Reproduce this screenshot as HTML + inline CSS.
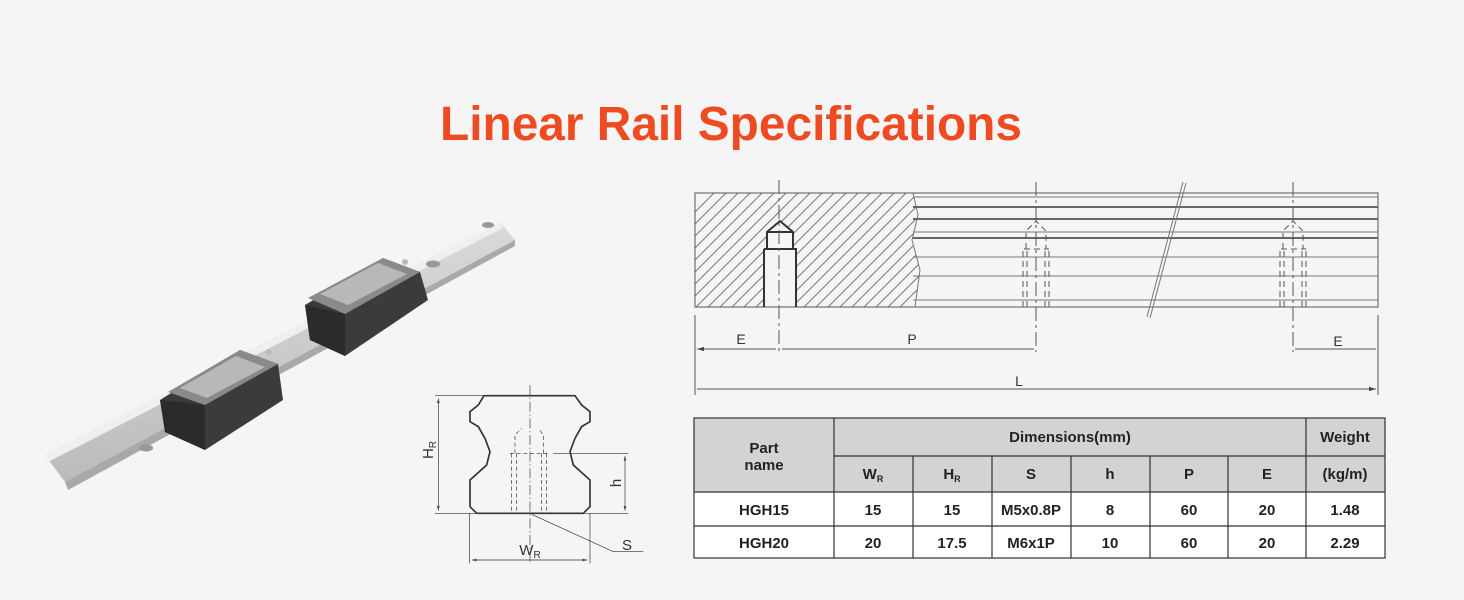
<!DOCTYPE html>
<html><head><meta charset="utf-8"><style>
html,body{margin:0;padding:0;background:#f5f5f5;}
svg{display:block;}
text{font-family:"Liberation Sans",Arial,sans-serif;}
</style></head><body>
<svg width="1464" height="600" viewBox="0 0 1464 600" xmlns="http://www.w3.org/2000/svg">
<defs>
<marker id="a" viewBox="0 0 10 10" refX="10" refY="5" markerWidth="7" markerHeight="7" orient="auto-start-reverse"><path d="M0,2 L10,5 L0,8 z" fill="#444"/></marker>
<clipPath id="hc"><path d="M695,193 L913,193 L918,215 L912,240 L920,270 L915,307 L695,307 z"/></clipPath>
<linearGradient id="rg" x1="0" y1="0" x2="0.3" y2="1"><stop offset="0" stop-color="#e6e6e6"/><stop offset="0.5" stop-color="#cfcfcf"/><stop offset="1" stop-color="#b8b8b8"/></linearGradient>
</defs>
<rect width="1464" height="600" fill="#f5f5f5"/>
<text x="731" y="140" text-anchor="middle" font-size="48" font-weight="bold" fill="#ef4b23" textLength="582" lengthAdjust="spacingAndGlyphs">Linear Rail Specifications</text>

<!-- product -->
<polygon points="45,455 500,222 515,240 65,482" fill="url(#rg)"/>
<polygon points="45,455 500,222 503,228 48,462" fill="#efefef"/>
<polygon points="65,482 515,240 515,246 68,490" fill="#a9a9a9"/>
<ellipse cx="146" cy="448" rx="7" ry="3.5" fill="#999"/>
<ellipse cx="433" cy="264" rx="7" ry="3.5" fill="#999"/>
<ellipse cx="488" cy="225" rx="6" ry="3" fill="#999"/>
<!-- upper block -->
<polygon points="305,305 383,258 420,272 428,300 345,356 310,340" fill="#3b3b3b"/>
<polygon points="308,298 383,258 420,272 345,314" fill="#8a8a8a"/>
<polygon points="320,294 378,263 407,274 348,305" fill="#b8b8b8"/>
<polygon points="305,305 345,314 345,356 310,340" fill="#2b2b2b"/>
<circle cx="405" cy="262" r="3" fill="#bbb"/>
<!-- lower block -->
<polygon points="160,400 240,350 278,364 283,400 205,450 165,432" fill="#3b3b3b"/>
<polygon points="168,392 240,350 278,364 205,405" fill="#8a8a8a"/>
<polygon points="180,388 236,356 265,367 207,398" fill="#b8b8b8"/>
<polygon points="160,400 205,405 205,450 165,432" fill="#2b2b2b"/>
<circle cx="269" cy="352" r="3" fill="#bbb"/>

<!-- cross-section -->
<g transform="translate(410,385) scale(0.3333)" fill="none" stroke="#333" stroke-width="3">
<path d="M222,32 L205,60 L180,80 L180,110 L205,125 L225,160 L240,200 L230,240 L180,285 L180,365 L200,385 L520,385 L540,365 L540,285 L490,240 L480,200 L495,160 L515,125 L540,110 L540,80 L515,60 L495,32 Z" stroke-width="5"/>
<path d="M360,0 L360,530" stroke-dasharray="30,8,4,8" stroke-width="2"/>
<path d="M305,205 L305,385 M320,205 L320,385 M395,205 L395,385 M410,205 L410,385 M300,205 L415,205 M315,205 L315,150 L335,130 M400,205 L400,150 L385,130" stroke-dasharray="12,8" stroke-width="2"/>
<path d="M75,32 L222,32 M75,385 L200,385 M430,205 L655,205 M520,385 L655,385 M178,385 L178,535 M540,385 L540,535" stroke-width="2"/>
<path d="M85,40 L85,377" stroke-width="2" marker-start="url(#a)" marker-end="url(#a)"/>
<path d="M645,213 L645,377" stroke-width="2" marker-start="url(#a)" marker-end="url(#a)"/>
<path d="M186,525 L532,525" stroke-width="2" marker-start="url(#a)" marker-end="url(#a)"/>
<path d="M365,388 L610,500 L700,500" stroke-width="2"/>
</g>
<text transform="translate(433,450) rotate(-90)" text-anchor="middle" font-size="15" fill="#333">H<tspan font-size="10" dy="3">R</tspan></text>
<text transform="translate(621,483) rotate(-90)" text-anchor="middle" font-size="15" fill="#333">h</text>
<text x="530" y="555" text-anchor="middle" font-size="15" fill="#333">W<tspan font-size="10" dy="3">R</tspan></text>
<text x="627" y="550" text-anchor="middle" font-size="15" fill="#333">S</text>

<!-- rail drawing -->
<g stroke="#555" fill="none" stroke-width="1">
<g clip-path="url(#hc)" stroke="#777">
<path d="M600,307 L714,193 M612,307 L726,193 M624,307 L738,193 M636,307 L750,193 M648,307 L762,193 M660,307 L774,193 M672,307 L786,193 M684,307 L798,193 M696,307 L810,193 M708,307 L822,193 M720,307 L834,193 M732,307 L846,193 M744,307 L858,193 M756,307 L870,193 M768,307 L882,193 M780,307 L894,193 M792,307 L906,193 M804,307 L918,193 M816,307 L930,193 M828,307 L942,193 M840,307 L954,193 M852,307 L966,193 M864,307 L978,193 M876,307 L990,193 M888,307 L1002,193 M900,307 L1014,193"/>
</g>
<path d="M767,249 L767,232 L780,221 L793,232 L793,249 L796,249 L796,307 L764,307 L764,249 Z" fill="#f5f5f5" stroke="none"/>
<path d="M913,193 L918,215 L912,240 L920,270 L915,307" stroke="#777"/>
<rect x="695" y="193" width="683" height="114"/>
<path d="M913,197 L1378,197 M913,207 L1378,207 M913,219 L1378,219 M913,232 L1378,232 M913,238 L1378,238 M913,257 L1378,257 M913,276 L1378,276 M913,300 L1378,300" stroke="#777"/>
<path d="M913,207 L1378,207 M913,219 L1378,219 M913,238 L1378,238" stroke-width="2" stroke="#666"/>
<path d="M767,249 L767,232 L780,221 L793,232 L793,249 M764,249 L796,249 L796,307 M764,249 L764,307 M767,232 L793,232" stroke="#333" stroke-width="2"/>
<path d="M1023,307 L1023,249 M1027,307 L1027,249 M1045,307 L1045,249 M1049,307 L1049,249 M1024,249 L1049,249 M1026,249 L1026,231 L1036,221 L1046,231 L1046,249 M1280,307 L1280,249 M1284,307 L1284,249 M1302,307 L1302,249 M1306,307 L1306,249 M1281,249 L1306,249 M1283,249 L1283,231 L1293,221 L1303,231 L1303,249" stroke-dasharray="6,4"/>
<path d="M779,180 L779,355 M1036,182 L1036,352 M1293,182 L1293,352" stroke-dasharray="14,4,3,4"/>
<path d="M1186,183 L1150,318 M1183,182 L1147,317" stroke="#777"/>
<path d="M695,315 L695,395 M1378,315 L1378,395"/>
<path d="M697,349 L776,349 M782,349 L1034,349 M1295,349 L1376,349 M697,389 L1376,389" marker-start="url(#a)" marker-end="url(#a)"/>
</g>
<text x="741" y="344" text-anchor="middle" font-size="14" fill="#333">E</text>
<text x="912" y="344" text-anchor="middle" font-size="14" fill="#333">P</text>
<text x="1338" y="346" text-anchor="middle" font-size="14" fill="#333">E</text>
<text x="1019" y="386" text-anchor="middle" font-size="14" fill="#333">L</text>

<!-- table -->
<g font-weight="bold" font-size="15" fill="#222" text-anchor="middle">
<rect x="694" y="418" width="691" height="74" fill="#d3d3d3"/>
<rect x="694" y="492" width="691" height="66" fill="#fff"/>
<g stroke="#333" stroke-width="1.2" fill="none">
<rect x="694" y="418" width="691" height="140"/>
<path d="M834,456 L1306,456 M1306,456 L1385,456 M694,492 L1385,492 M694,526 L1385,526 M834,418 L834,558 M1306,418 L1306,558 M913,456 L913,558 M992,456 L992,558 M1071,456 L1071,558 M1150,456 L1150,558 M1228,456 L1228,558"/>
</g>
<text x="764" y="453">Part</text><text x="764" y="470">name</text>
<text x="1070" y="442">Dimensions(mm)</text>
<text x="1345" y="442">Weight</text>
<text x="873" y="479">W<tspan font-size="9" dy="3">R</tspan></text>
<text x="952" y="479">H<tspan font-size="9" dy="3">R</tspan></text>
<text x="1031" y="479">S</text><text x="1110" y="479">h</text><text x="1189" y="479">P</text><text x="1267" y="479">E</text><text x="1345" y="479">(kg/m)</text>
<text x="764" y="515">HGH15</text><text x="873" y="515">15</text><text x="952" y="515">15</text><text x="1031" y="515">M5x0.8P</text><text x="1110" y="515">8</text><text x="1189" y="515">60</text><text x="1267" y="515">20</text><text x="1345" y="515">1.48</text>
<text x="764" y="548">HGH20</text><text x="873" y="548">20</text><text x="952" y="548">17.5</text><text x="1031" y="548">M6x1P</text><text x="1110" y="548">10</text><text x="1189" y="548">60</text><text x="1267" y="548">20</text><text x="1345" y="548">2.29</text>
</g>
</svg>
</body></html>
